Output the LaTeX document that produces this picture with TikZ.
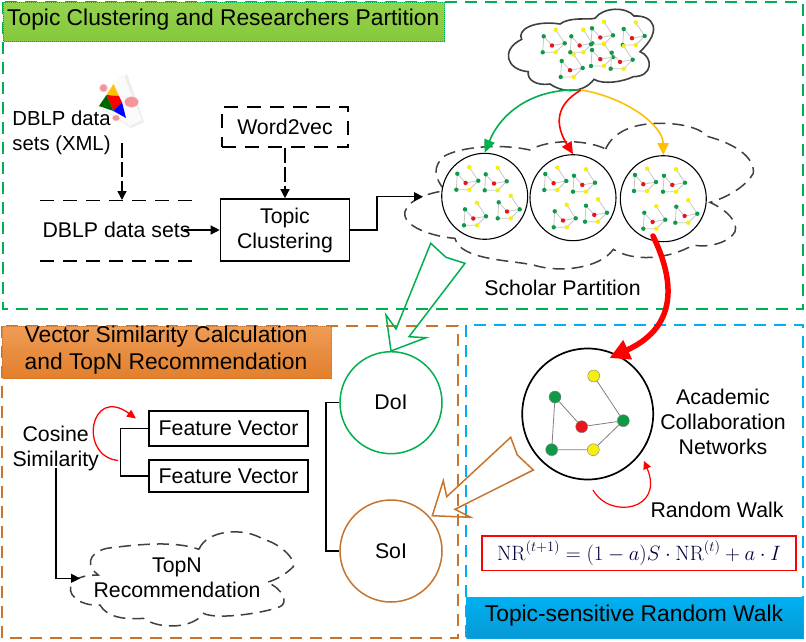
\documentclass[tikz,border=0pt]{standalone}
\usepackage[no-math]{fontspec}
\setmainfont{Liberation Sans}
\usetikzlibrary{arrows.meta,positioning}
\definecolor{frgreen}{HTML}{00B050}
\definecolor{frorange}{HTML}{C8742D}
\definecolor{frblue}{HTML}{00B0F0}
\definecolor{gnode}{HTML}{0E9A47}
\definecolor{ynode}{HTML}{F5EE10}
\definecolor{rnode}{HTML}{E8141C}
\definecolor{amber}{HTML}{FFC000}
\definecolor{gtop}{HTML}{95D24E}
\definecolor{gbot}{HTML}{84C83C}
\definecolor{otop}{HTML}{EE9C55}
\definecolor{obot}{HTML}{E27F2C}
\definecolor{btop}{HTML}{00B0F0}
\definecolor{bbot}{HTML}{0799D6}
\tikzset{
  frame/.style={line width=1.5pt,dash pattern=on 12pt off 8pt},
  title/.style={font=\fontsize{22.8}{27}\selectfont,align=center,text=black},
  lab/.style={font=\fontsize{21.3}{25}\selectfont,align=center,inner sep=0pt,text=black},
  blackbox/.style={draw=black,line width=1.6pt,fill=white,align=center,inner sep=0pt,font=\fontsize{21.3}{25}\selectfont},
  dashline/.style={line width=1.5pt,dash pattern=on 12pt off 7pt,draw=black!75},
  link/.style={draw=black,line width=1.4pt},
  longdash/.style={dash pattern=on 14pt off 9pt},
  tip/.style={-{Triangle[length=9pt,width=9pt]}},
  gn/.style={circle,fill=gnode,inner sep=0pt,minimum size=#1},
  yn/.style={circle,fill=ynode,inner sep=0pt,minimum size=#1},
  rn/.style={circle,fill=rnode,inner sep=0pt,minimum size=#1},
  small edge/.style={draw=black!22,line width=0.8pt},
  big circle/.style={circle,draw,fill=white,inner sep=0pt,minimum size=#1},
  hollow/.style={line width=1.5pt,fill=none,line join=miter},
}
% one small network: top-left green node at (#1,#2)
\newcommand{\mininet}[2]{%
  \begin{scope}[shift={(#1,#2)}]
    \draw[small edge] (0,0) -- (8.3,9.2) -- (21,7) -- (12,-6.5);
    \draw[small edge] (0,0) -- (-1,16) -- (12,16) -- (21,7);
    \fill[gnode] (0,0) circle (2.2);
    \fill[ynode] (12,-6.5) circle (2.2);
    \fill[gnode] (21,7) circle (2.2);
    \fill[rnode] (8.3,9.2) circle (2.2);
    \fill[gnode] (-1,16) circle (2.2);
    \fill[ynode] (12,16) circle (2.2);
  \end{scope}}
\begin{document}
\begin{tikzpicture}[x=1pt,y=-1pt]
\useasboundingbox (0,0) rectangle (806,641);
\fill[white] (0,0) rectangle (806,641);

% frames
\draw[frame,frgreen] (3,2) rectangle (803,309);
\draw[frame,frorange] (2,326) rectangle (458,638);
\draw[frame,frblue] (466,325) rectangle (803,638);

% title bars
\node[title,anchor=north west,minimum width=441pt,minimum height=39pt,inner sep=0pt,
  top color=gtop,bottom color=gbot,draw=frgreen,densely dotted,line width=1pt] (t1) at (3,2) {};
\node[title,anchor=west,inner sep=0pt] at (7,20) {Topic Clustering and Researchers Partition};
\node[title,anchor=north west,minimum width=329pt,minimum height=52pt,inner sep=0pt,
  top color=otop,bottom color=obot,draw=frorange,densely dotted,line width=1pt] (t2) at (2,326) {};
\node[title,inner sep=0pt] at (166,350.5) {\setlength{\baselineskip}{27pt}Vector Similarity Calculation\\and TopN Recommendation};
\node[title,anchor=north west,minimum width=337pt,minimum height=41pt,inner sep=0pt,
  top color=btop,bottom color=bbot,draw=frblue,densely dotted,line width=1pt] (t3) at (466,597) {};
\node[title,inner sep=0pt] at (634,616) {Topic-sensitive Random Walk};

% XML icon
\fill[black!7] (127,74) -- (144,122) -- (131,128) -- (98,106) -- cycle;
\fill[white!98!black] (123,73) -- (142,120) -- (130,126) -- (98,105) -- cycle;
\fill[rnode!45,draw=rnode!30] (103.5,88) circle (3.8);
\fill[rnode!45,draw=rnode!30] (131.5,102) ellipse (6.8 and 5.2);
\fill[rnode!45,draw=rnode!30] (116,118) ellipse (3.5 and 2.8);
\fill[amber] (113.5,84) -- (119,96) -- (106.5,95) -- cycle;
\fill[red] (106.5,95) -- (119,96) -- (122,102) -- (113.5,111) -- cycle;
\fill[green!40!black] (106.5,95) -- (99,106) -- (113.5,111) -- cycle;
\fill[blue] (122,102) -- (126,118) -- (113.5,111) -- cycle;

% left column of the top frame
\node[lab,font=\fontsize{20.3}{25}\selectfont] (xml) at (61.5,133) {\setlength{\baselineskip}{24.5pt}DBLP data\\sets (XML)};
\draw[line width=1.4pt,black,longdash] (40,200.5) -- (195,200.5);
\draw[line width=1.4pt,black,longdash] (40,261) -- (195,261);
\node[lab] (dblp) at (116.5,230) {DBLP data sets};
\node[blackbox,draw,longdash,minimum width=126pt,minimum height=40pt] (w2v) at (285,127) {Word2vec};
\node[blackbox,minimum width=129pt,minimum height=62pt] (tc) at (285,230) {\setlength{\baselineskip}{25pt}Topic\\Clustering};
\coordinate (xmlbase) at (122,143);
\coordinate (xmlend) at (122,200);
\draw[link,tip,dash pattern=on 15pt off 4pt] (xmlbase) -- (xmlend);
\draw[link,tip,dash pattern=on 15pt off 4pt] (w2v.south) -- (tc.north);
\draw[link,tip] ([xshift=-7pt]dblp.east) -- (tc.west);

% zoom-2 coordinates
\begin{scope}[shift={(400,0)},x=0.33333pt,y=-0.33333pt]
  % top cloud
  \draw[line width=1.6pt,draw=black!75,fill=white] (365,118)
    .. controls (350,90) and (400,60) .. (480,72)
    .. controls (510,50) and (560,60) .. (585,55)
    .. controls (610,20) and (680,20) .. (702,48)
    .. controls (760,45) and (790,90) .. (720,155)
    .. controls (760,170) and (760,230) .. (700,230)
    .. controls (670,245) and (610,255) .. (582,238)
    .. controls (550,280) and (490,280) .. (450,252)
    .. controls (410,258) and (380,240) .. (385,215)
    .. controls (320,210) and (300,150) .. (365,118) -- cycle;
  % partition cloud
  \draw[dashline,fill=white] (617,447)
    .. controls (640,395) and (700,370) .. (780,370)
    .. controls (850,370) and (900,385) .. (925,410)
    .. controls (1000,430) and (1065,470) .. (1060,520)
    .. controls (1040,555) and (990,590) .. (930,607)
    .. controls (980,630) and (1015,665) .. (1005,695)
    .. controls (990,725) and (930,745) .. (880,735)
    .. controls (800,780) and (700,785) .. (640,748)
    .. controls (600,805) and (480,820) .. (400,795)
    .. controls (330,780) and (180,780) .. (165,715)
    .. controls (100,710) and (5,680) .. (15,635)
    .. controls (25,600) and (80,580) .. (135,572)
    .. controls (100,530) and (100,500) .. (130,470)
    .. controls (180,440) and (300,430) .. (390,450)
    .. controls (440,420) and (550,415) .. (617,447) -- cycle;
\end{scope}
\node[big circle=86pt,line width=1.1pt] (c1) at (484.7,196.3) {};
\node[big circle=86pt,line width=1.1pt] (c2) at (573,197.7) {};
\node[big circle=86pt,line width=1.1pt] (c3) at (663.3,198.7) {};
\coordinate (partin) at (423,196.7);
\draw[link,tip] (tc.east) -- (377,230) -- (377,196.7) -- (partin);

% small networks
\foreach \a/\b in {543.7/36.3,571.3/36.3,592/28.3,623.7/29,561.7/61,592/50,611.7/52.7,
  457.3/173.7,485.7/174.3,465/209.3,498.7/202.3,
  545.3/174,574/175.7,554.7/211.3,586/205.7,
  635/175,664/175.7,644.3/212.7,676.3/206.7}{\mininet{\a}{\b}}

\coordinate (cloudb) at (581,90);
\draw[frgreen,line width=1.6pt,-{Triangle[length=13pt,width=11pt]}] (cloudb)
  .. controls (530,88) and (500,115) .. (c1.north);
\draw[red,line width=1.6pt,-{Triangle[length=12pt,width=11pt]}] (cloudb)
  .. controls (555,105) and (555,125) .. (c2.north);
\draw[amber,line width=1.6pt,-{Triangle[length=12pt,width=11pt]}] (cloudb)
  .. controls (625,97) and (663,125) .. (c3.north);

\node[lab] (sp) at (562.5,288) {Scholar Partition};

% academic network
\node[big circle=131pt,line width=1.7pt] (acn) at (587.7,414) {};
\node[gn=12pt,draw=black!50,line width=.4pt] (n1) at (555,397) {};
\node[yn=12pt,draw=black!50,line width=.4pt] (n2) at (593.7,376) {};
\node[gn=12pt,draw=black!50,line width=.4pt] (n3) at (623.3,420.7) {};
\node[rn=12pt,draw=black!50,line width=.4pt] (n4) at (581.7,426.7) {};
\node[gn=12pt,draw=black!50,line width=.4pt] (n5) at (551.7,449.7) {};
\node[yn=12pt,draw=black!50,line width=.4pt] (n6) at (593.3,449.7) {};
\draw[black!50,line width=.8pt] (n1)--(n4) (n4)--(n3) (n2)--(n3) (n1)--(n5) (n5)--(n6) (n6)--(n3);

\coordinate (thick0) at (653,236);
\coordinate (acnin) at (609.5,358);
\draw[red,line width=5.5pt,line cap=round,-{Triangle[length=20pt,width=20pt]}] (thick0)
  .. controls (672,275) and (682,325) .. (acnin);

\node[lab] (acl) at (723,421.5) {\setlength{\baselineskip}{25.5pt}Academic\\Collaboration\\Networks};
\node[lab] (rw) at (717,510) {Random Walk};
\coordinate (rwa) at (593,490);
\coordinate (rwb) at (644,461);
\draw[red,line width=1.2pt,-{Triangle[length=8pt,width=8pt]}] (rwa)
  .. controls (610,520) and (665,510) .. (rwb);

\node[draw=red,line width=1.5pt,minimum width=314pt,minimum height=34.5pt,inner sep=0pt] (form) at (639,553.3)
  {\color{black!75!blue}\fontsize{20}{24}\selectfont$\mathrm{NR}^{(t+1)}=(1-a)S\cdot\mathrm{NR}^{(t)}+a\cdot I$};

% DoI / SoI
\node[big circle=102pt,draw=frgreen,line width=1.5pt,lab] (doi) at (391,402.7) {DoI};
\node[big circle=102pt,draw=frorange,line width=1.5pt,lab] (soi) at (391,551) {SoI};
\draw[link] (doi.west) -- (326,402.7) -- (326,551) -- (soi.west);

% hollow arrows
\draw[hollow,frgreen] (430.7,243.3) -- (446,257.3) -- (465,263.3) -- (409,336.7) -- (426,337.7) -- (doi.north) -- (386,315) -- (396,329) -- cycle;
\draw[hollow,frorange] (510.7,437.3) -- (517.3,455) -- (533.3,470) -- (455,509.3) -- (470.7,517.3) -- (432.3,515.7) -- (443.3,480.7) -- (446.7,496.7) -- cycle;

% feature vectors
\node[blackbox,minimum width=159pt,minimum height=35pt] (f1) at (228.5,428.5) {Feature Vector};
\node[blackbox,minimum width=159pt,minimum height=32pt] (f2) at (228.5,476) {Feature Vector};
\draw[link] (f1.west) -- (120.7,428.5) -- (120.7,476) -- (f2.west);
\node[lab] (cos) at (55.7,448) {\setlength{\baselineskip}{25pt}Cosine\\Similarity};
\coordinate (loopa) at (118,460.5);
\coordinate (loopb) at (136,418.5);
\draw[red,line width=1.3pt,-{Triangle[length=9pt,width=8pt]}] (loopa)
  .. controls (78,456) and (90,385) .. (loopb);

% TopN cloud
\begin{scope}[shift={(0,320)},x=0.33333pt,y=-0.33333pt]
\draw[dashline] (597,688)
  .. controls (620,630) and (730,620) .. (790,658)
  .. controls (840,670) and (890,720) .. (880,740)
  .. controls (860,760) and (830,780) .. (800,787)
  .. controls (850,805) and (865,850) .. (840,860)
  .. controls (790,880) and (650,900) .. (610,880)
  .. controls (580,925) and (480,930) .. (430,895)
  .. controls (370,900) and (320,890) .. (300,855)
  .. controls (240,860) and (190,820) .. (220,785)
  .. controls (235,770) and (265,765) .. (295,765)
  .. controls (260,740) and (260,700) .. (320,685)
  .. controls (400,675) and (520,660) .. (597,688) -- cycle;
\end{scope}
\node[lab] (topn) at (177,577.5) {\setlength{\baselineskip}{26pt}TopN\\Recommendation};
\coordinate (cosb) at (56,468);
\coordinate (topnin) at (80,578.3);
\draw[link,tip] (cosb) |- (topnin);
\end{tikzpicture}
\end{document}
